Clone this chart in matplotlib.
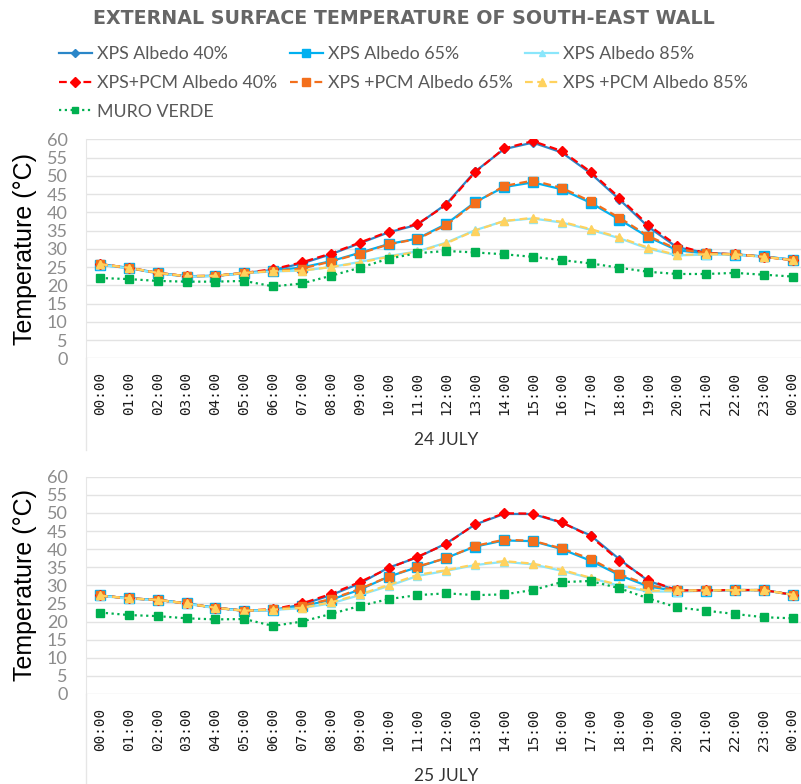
import numpy as np
import matplotlib

matplotlib.use('Agg')
from matplotlib import pyplot as plt

hours = ['%02d:00' % h for h in range(24)] + ['00:00']

series_names = ['XPS Albedo 40%', 'XPS Albedo 65%', 'XPS Albedo 85%',
                'XPS+PCM Albedo 40%', 'XPS +PCM Albedo 65%', 'XPS +PCM Albedo 85%',
                'MURO VERDE']

# 24 July
xps40_24 = [25.8, 24.8, 23.4, 22.5, 22.6, 23.4, 24.2, 26.0, 28.5, 31.5, 34.5, 36.6, 42.3,
            51.2, 57.3, 59.1, 56.4, 50.7, 43.5, 36.0, 30.4, 28.9, 28.5, 27.9, 27.0]
xps65_24 = [25.6, 24.7, 23.3, 22.4, 22.6, 23.3, 24.0, 24.9, 26.6, 28.9, 31.3, 32.8, 36.8,
            42.8, 46.9, 48.2, 46.3, 42.6, 38.0, 33.2, 29.6, 28.7, 28.4, 27.9, 27.0]
xps85_24 = [25.6, 24.7, 23.3, 22.4, 22.5, 23.3, 23.8, 24.0, 25.0, 26.4, 28.0, 29.3, 31.7,
            35.1, 37.6, 38.3, 37.2, 35.2, 32.9, 30.0, 28.2, 28.4, 28.4, 27.8, 27.0]
pcm40_24 = [25.8, 24.8, 23.4, 22.5, 22.6, 23.4, 24.4, 26.3, 28.7, 31.7, 34.7, 36.8, 42.0,
            51.0, 57.5, 59.5, 56.8, 51.1, 44.0, 36.5, 30.9, 28.8, 28.5, 27.8, 26.9]
pcm65_24 = [25.8, 24.8, 23.4, 22.5, 22.6, 23.4, 23.9, 24.6, 26.5, 28.7, 31.2, 32.7, 36.5,
            42.6, 47.2, 48.7, 46.7, 43.0, 38.5, 33.5, 29.9, 28.8, 28.5, 27.8, 26.9]
pcm85_24 = [25.8, 24.8, 23.4, 22.5, 22.6, 23.4, 23.9, 24.0, 25.0, 26.2, 27.8, 29.2, 31.5,
            35.0, 37.6, 38.5, 37.4, 35.4, 33.1, 30.3, 28.3, 28.5, 28.5, 27.8, 26.9]
verde_24 = [22.0, 21.7, 21.2, 21.0, 21.0, 21.2, 19.7, 20.5, 22.6, 24.8, 27.3, 28.8, 29.4,
            29.0, 28.5, 27.8, 26.9, 26.0, 24.8, 23.7, 23.1, 23.1, 23.4, 22.9, 22.4]

# 25 July
xps40_25 = [27.2, 26.4, 26.0, 25.0, 23.8, 23.0, 23.2, 24.7, 27.3, 30.5, 34.9, 37.7, 41.6,
            46.8, 49.7, 49.7, 47.3, 43.8, 37.2, 31.2, 28.6, 28.6, 28.7, 28.7, 27.4]
xps65_25 = [27.2, 26.4, 26.0, 25.0, 23.8, 23.0, 23.2, 24.2, 26.0, 28.8, 32.4, 35.0, 37.6,
            40.7, 42.4, 42.2, 40.0, 36.8, 32.8, 29.7, 28.4, 28.5, 28.7, 28.7, 27.4]
xps85_25 = [27.1, 26.3, 25.9, 24.9, 23.7, 22.9, 23.2, 23.7, 25.0, 27.3, 29.8, 32.6, 34.0,
            35.6, 36.5, 35.8, 34.0, 32.0, 29.9, 28.3, 28.3, 28.5, 28.6, 28.6, 27.4]
pcm40_25 = [27.2, 26.4, 26.0, 25.0, 23.8, 23.0, 23.4, 25.0, 27.6, 30.9, 34.7, 37.9, 41.4,
            46.9, 49.9, 49.8, 47.4, 43.5, 36.8, 31.5, 28.6, 28.6, 28.7, 28.7, 27.4]
pcm65_25 = [27.2, 26.4, 26.0, 25.0, 23.8, 23.0, 23.4, 24.4, 26.2, 29.0, 32.4, 35.2, 37.5,
            40.9, 42.6, 42.3, 40.2, 37.3, 33.1, 30.1, 28.6, 28.6, 28.7, 28.7, 27.4]
pcm85_25 = [27.2, 26.4, 26.0, 25.0, 23.8, 23.0, 23.3, 23.8, 25.3, 27.5, 30.1, 32.9, 34.2,
            35.8, 36.7, 36.0, 34.3, 32.1, 30.1, 28.5, 28.6, 28.6, 28.7, 28.7, 27.4]
verde_25 = [22.5, 21.8, 21.5, 20.9, 20.6, 20.7, 18.8, 20.0, 22.1, 24.3, 26.2, 27.3, 27.8,
            27.3, 27.5, 28.7, 30.9, 31.2, 29.2, 26.4, 23.9, 23.0, 22.1, 21.2, 20.9]

# colour, linestyle, marker, markersize for each series
styles = [
    ('#2a86c8', '-', 'D', 4.5),
    ('#00b0f0', '-', 's', 6.5),
    ('#8ae6fb', '-', '^', 5.5),
    ('#ff0000', (0, (3.5, 2)), 'D', 5.5),
    ('#f36f1c', (0, (3.5, 2)), 's', 6),
    ('#ffd25e', (0, (3.5, 2)), '^', 6),
    ('#00b050', (0, (1, 1.6)), 's', 5.5),
]

W, H = 801, 784


def px(x, y):
    """Pixel position (from top left) to figure fraction."""
    return x / W, 1 - y / H


def draw_day(fig, top, bottom, day_series, day_label):
    """
    Draw one day's temperature curves in an axes spanning the given pixel rows.
    """
    left, right = 85.6, 807.0
    ax = fig.add_axes([left / W, 1 - bottom / H, (right - left) / W, (bottom - top) / H])
    x = np.arange(len(hours))
    lines = []
    for values, name, (color, ls, marker, ms) in zip(day_series, series_names, styles):
        ln, = ax.plot(x, values, color=color, linestyle=ls, linewidth=1.6, marker=marker,
                      markersize=ms, markeredgecolor=color, label=name)
        lines.append(ln)
    ax.set_xlim(-0.5, len(hours) - 0.5)
    ax.set_ylim(0, 60)
    ax.set_yticks(np.arange(0, 61, 5))
    ax.set_xticks(x)
    ax.set_xticklabels(hours, rotation=90, family='DejaVu Sans Mono', fontsize=10.4,
                       color='#1a1a1a')
    ax.tick_params(axis='x', length=0, pad=10)
    ax.tick_params(axis='y', length=0, pad=13, labelsize=13, labelcolor='#8c8c8c')
    for label in ax.get_yticklabels():
        label.set_family('Lato')
    ax.grid(axis='y', color='#e3e3e3', linewidth=1)
    ax.set_axisbelow(True)
    for side in ['top', 'right', 'bottom']:
        ax.spines[side].set_visible(False)
    ax.spines['left'].set_color('#e6e6e6')
    # left border carries on down past the hour labels
    ax.plot([0, 0], [0, -92 / (bottom - top)], transform=ax.transAxes, color='#e6e6e6',
            linewidth=1, clip_on=False)
    fig.text(*px(25, (top + bottom) / 2), 'Temperature (°C)', rotation=90, ha='center',
             va='center', fontsize=18, family='Liberation Sans', color='#000000')
    fig.text(*px((left + right) / 2, bottom + 82), day_label, ha='center', va='center',
             fontsize=12.5, family='Lato', color='#333333')
    return lines


fig = plt.figure(figsize=(W / 100, H / 100), dpi=100)

fig.text(*px(404, 18), 'EXTERNAL SURFACE TEMPERATURE OF SOUTH-EAST WALL', ha='center',
         va='center', fontsize=13.7, fontweight='bold', family='DejaVu Sans', color='#666666')

lines = draw_day(fig, 139.3, 358.3,
                 [xps40_24, xps65_24, xps85_24, pcm40_24, pcm65_24, pcm85_24, verde_24],
                 '24 JULY')
draw_day(fig, 476.7, 694.0,
         [xps40_25, xps65_25, xps85_25, pcm40_25, pcm65_25, pcm85_25, verde_25],
         '25 JULY')

# legend filled column by column, so order the handles to read row by row
order = [0, 3, 6, 1, 4, 2, 5]
leg = fig.legend([lines[i] for i in order], [series_names[i] for i in order], ncol=3,
                 loc='upper left', bbox_to_anchor=px(59, 46), frameon=False,
                 borderpad=0, borderaxespad=0, handlelength=1.85, handletextpad=0.28,
                 columnspacing=0.72, labelspacing=0.72, numpoints=1, markerscale=0.85,
                 prop={'family': 'Lato', 'size': 12.8})
for text in leg.get_texts():
    text.set_color('#595959')

plt.savefig('out.png', dpi=100)
